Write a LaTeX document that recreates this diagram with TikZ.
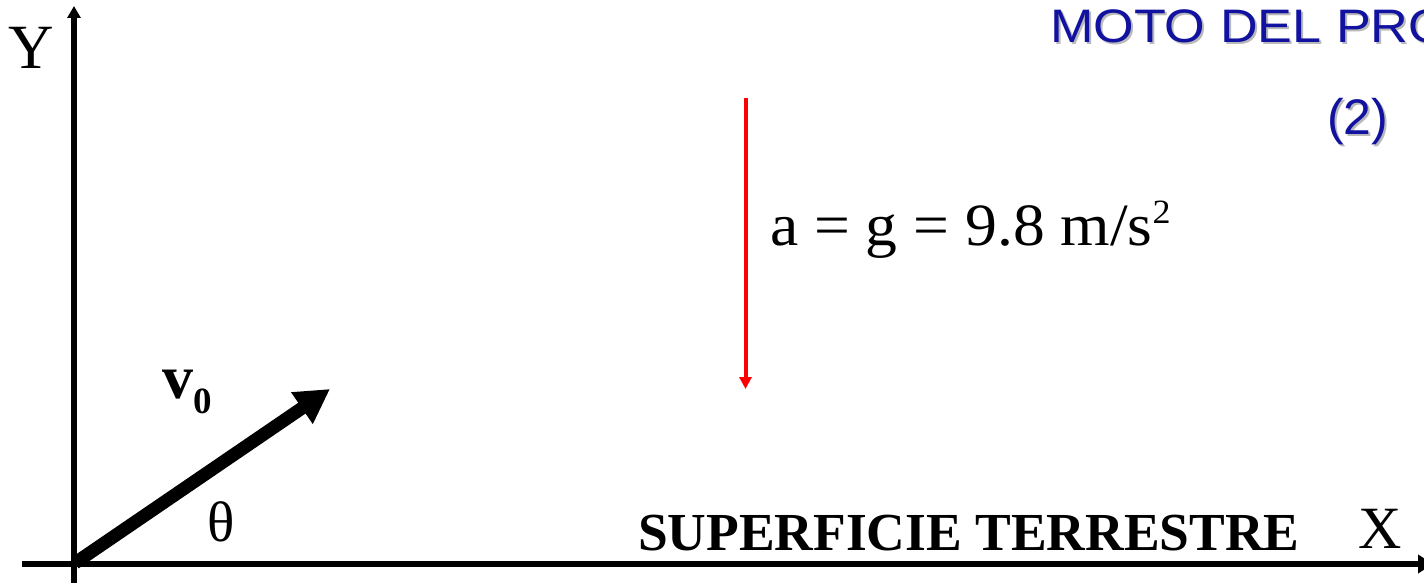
\documentclass[tikz,border=0pt]{standalone}
\usepackage{fontspec}
\setmainfont{Liberation Serif}
\newfontfamily\titlefont{Liberation Sans}
\usetikzlibrary{arrows.meta}
\definecolor{titleblue}{RGB}{18,18,160}
\definecolor{shadowgray}{RGB}{185,185,185}
\tikzset{
  lbl/.style={anchor=base west, inner sep=0pt, outer sep=0pt},
  axis/.style={line width=5.5pt, -{Triangle[length=12pt,width=13pt]}},
  velvec/.style={line width=13pt, -{Triangle[length=34pt,width=36pt]}},
  accvec/.style={line width=4pt, red, -{Triangle[length=12pt,width=12pt]}},
}
\begin{document}
\begin{tikzpicture}[x=1pt,y=-1pt]
\useasboundingbox (0,0) rectangle (1424,583);
\clip (0,0) rectangle (1424,583);
% axes
\coordinate (ybot) at (74,590);
\coordinate (ytop) at (74,6);
\coordinate (xleft) at (22,564);
\coordinate (xright) at (1433,564);
\draw[axis] (ybot) -- (ytop);
\draw[axis, line width=6.5pt, -{Triangle[length=15pt,width=18pt]}] (xleft) -- (xright);
% velocity
\coordinate (origin) at (75,563);
\coordinate (vtip) at (330,389);
\draw[velvec] (origin) -- (vtip);
% acceleration
\coordinate (atop) at (745.5,98);
\coordinate (abot) at (745.5,389);
\draw[accvec] (atop) -- (abot);
% labels
\node[lbl, font=\fontsize{63}{70}\selectfont] (ylabel) at (9,69) {Y};
\node[lbl, font=\fontsize{60}{70}\selectfont] (xlabel) at (1358,548) {X};
\node[lbl, font=\fontsize{62}{70}\selectfont\bfseries] (vlabel) at (162,398) {v\raisebox{-15pt}{\fontsize{37}{44}\selectfont 0}};
\node[lbl, font=\fontsize{57}{66}\selectfont] (theta) at (207,541) {θ};
\node[lbl, font=\fontsize{60}{70}\selectfont, xscale=1.06] (alabel) at (770,245) {a = g = 9.8 m/s\raisebox{22pt}{\fontsize{34}{40}\selectfont 2}};
\node[lbl, font=\fontsize{53.5}{62}\selectfont\bfseries] (surf) at (638,550) {SUPERFICIE TERRESTRE};
% title with shadow
\node[lbl, font=\titlefont\fontsize{47}{54}\selectfont, xscale=1.11, text=shadowgray] (titleshadow) at (1052,45) {MOTO DEL PRO};
\node[lbl, font=\titlefont\fontsize{47}{54}\selectfont, xscale=1.11, text=titleblue] (title) at (1050,43) {MOTO DEL PRO};
\node[lbl, font=\titlefont\fontsize{50}{58}\selectfont, text=shadowgray] (numshadow) at (1329,137) {(2)};
\node[lbl, font=\titlefont\fontsize{50}{58}\selectfont, text=titleblue] (num) at (1327,135) {(2)};
\end{tikzpicture}
\end{document}
